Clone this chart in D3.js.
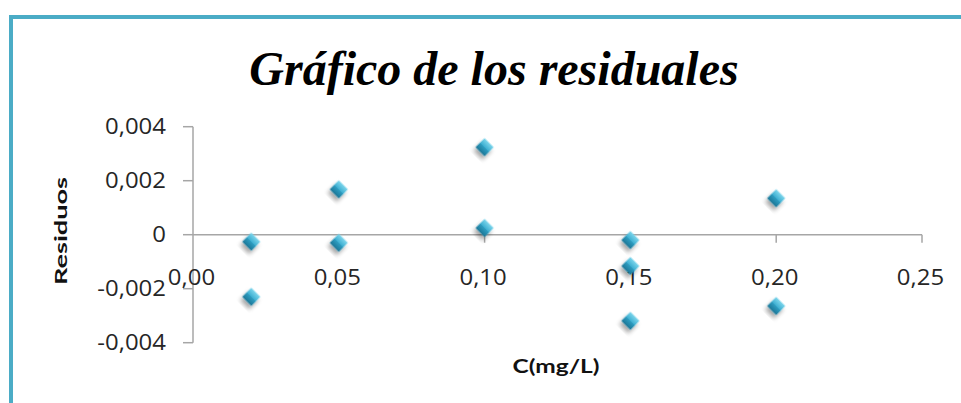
<!DOCTYPE html>
<html>
<head>
<meta charset="utf-8">
<script src="https://cdn.jsdelivr.net/npm/d3@7"></script>
<style>
  body { margin: 0; background: #fff; }
  svg { display: block; }
</style>
</head>
<body>
<div id="chart"></div>
<script>
let width = 961,
  height = 403;

// residuales
let conc = [0.02, 0.02, 0.05, 0.05, 0.10, 0.10, 0.15, 0.15, 0.15, 0.20, 0.20];
let resid = [-0.00026, -0.0023, 0.00168, -0.0003, 0.00324, 0.00025, -0.0002, -0.00116, -0.00319, 0.00135, -0.00264];
let xTicks = [0, 0.05, 0.10, 0.15, 0.20, 0.25];
let yTicks = [-0.004, -0.002, 0, 0.002, 0.004];

let data = conc.map((c, i) => ({ c: c, r: resid[i] }));

let locale = d3.formatLocale({ decimal: ",", thousands: ".", grouping: [3], currency: ["", ""], minus: "-" });
let fx = locale.format(".2f");
let fy = d => d === 0 ? "0" : locale.format(".3f")(d);

// el texto del original es más ancho: se estira a lo largo
function widen(sel, k) {
  sel.each(function () {
    let w = this.getComputedTextLength();
    d3.select(this).attr("textLength", w * k).attr("lengthAdjust", "spacingAndGlyphs");
  });
}

let svg = d3.select("#chart")
  .append("svg")
  .attr("width", width)
  .attr("height", height);

let defs = svg.append("defs");
let grad = defs.append("linearGradient")
  .attr("id", "gem")
  .attr("x1", 0).attr("y1", 0).attr("x2", 0).attr("y2", 1);
grad.append("stop").attr("offset", "0%").attr("stop-color", "#7fd6ec");
grad.append("stop").attr("offset", "48%").attr("stop-color", "#3fb0d2");
grad.append("stop").attr("offset", "52%").attr("stop-color", "#2d9cc0");
grad.append("stop").attr("offset", "100%").attr("stop-color", "#1c7696");

let shadow = defs.append("filter")
  .attr("id", "shadow")
  .attr("x", "-50%").attr("y", "-50%").attr("width", "200%").attr("height", "200%");
shadow.append("feDropShadow")
  .attr("dx", 1).attr("dy", 4)
  .attr("stdDeviation", 2)
  .attr("flood-color", "#000")
  .attr("flood-opacity", 0.35);

// marco
svg.append("path")
  .attr("d", "M11," + (height + 5) + "V17H" + (width + 5))
  .attr("fill", "none")
  .attr("stroke", "#4bacc6")
  .attr("stroke-width", 4);

svg.append("text")
  .attr("x", 494)
  .attr("y", 85)
  .attr("text-anchor", "middle")
  .style("font-family", "'Liberation Serif', serif")
  .style("font-weight", "bold")
  .style("font-style", "italic")
  .style("font-size", "48px")
  .text("Gráfico de los residuales");

let x = d3.scaleLinear()
  .domain([0, 0.25])
  .range([193, 922]);

let y = d3.scaleLinear()
  .domain([-0.004, 0.004])
  .range([342.7, 126.7]);

let axisColor = "#a6a6a6";

// eje y
let gy = svg.append("g").attr("transform", "translate(" + x(0) + ",0)");
gy.append("line")
  .attr("y1", y(-0.004)).attr("y2", y(0.004))
  .attr("stroke", axisColor).attr("stroke-width", 1.5);
gy.selectAll(".tick")
  .data(yTicks)
  .join("line")
  .attr("x1", -10).attr("x2", 0)
  .attr("y1", d => y(d)).attr("y2", d => y(d))
  .attr("stroke", axisColor).attr("stroke-width", 1.5);
gy.selectAll("text")
  .data(yTicks)
  .join("text")
  .attr("x", -27)
  .attr("y", d => y(d))
  .attr("dy", "0.36em")
  .attr("text-anchor", "end")
  .style("font-family", "'Open Sans', sans-serif")
  .style("font-size", "21px")
  .attr("fill", "#262626")
  .text(fy)
  .call(widen, 1.14);

// eje x
let gx = svg.append("g").attr("transform", "translate(0," + y(0) + ")");
gx.append("line")
  .attr("x1", x(0)).attr("x2", x(0.25))
  .attr("stroke", axisColor).attr("stroke-width", 1.5);
gx.selectAll("line.tick")
  .data(xTicks.slice(1))
  .join("line")
  .attr("class", "tick")
  .attr("x1", d => x(d)).attr("x2", d => x(d))
  .attr("y1", 0).attr("y2", 8)
  .attr("stroke", axisColor).attr("stroke-width", 1.5);
gx.selectAll("text")
  .data(xTicks)
  .join("text")
  .attr("x", d => x(d) - 1.5)
  .attr("y", 50)
  .attr("text-anchor", "middle")
  .style("font-family", "'Open Sans', sans-serif")
  .style("font-size", "21px")
  .attr("fill", "#262626")
  .text(fx)
  .call(widen, 1.14);

svg.append("text")
  .attr("transform", "translate(67,231) rotate(-90)")
  .attr("text-anchor", "middle")
  .style("font-family", "Lato, sans-serif")
  .style("font-weight", "bold")
  .style("font-size", "17px")
  .attr("fill", "#111")
  .attr("textLength", 108)
  .attr("lengthAdjust", "spacingAndGlyphs")
  .text("Residuos");

svg.append("text")
  .attr("x", 556)
  .attr("y", 373)
  .attr("text-anchor", "middle")
  .style("font-family", "Lato, sans-serif")
  .style("font-weight", "bold")
  .style("font-size", "19px")
  .attr("fill", "#111")
  .attr("textLength", 87)
  .attr("lengthAdjust", "spacingAndGlyphs")
  .text("C(mg/L)");

let diamond = d3.symbol().type(d3.symbolSquare).size(165);

svg.append("g")
  .selectAll("path")
  .data(data)
  .join("path")
  .attr("d", diamond)
  .attr("transform", d => "translate(" + x(d.c) + "," + y(d.r) + ") rotate(45)")
  .attr("fill", "url(#gem)")
  .attr("filter", "url(#shadow)");
</script>
</body>
</html>
